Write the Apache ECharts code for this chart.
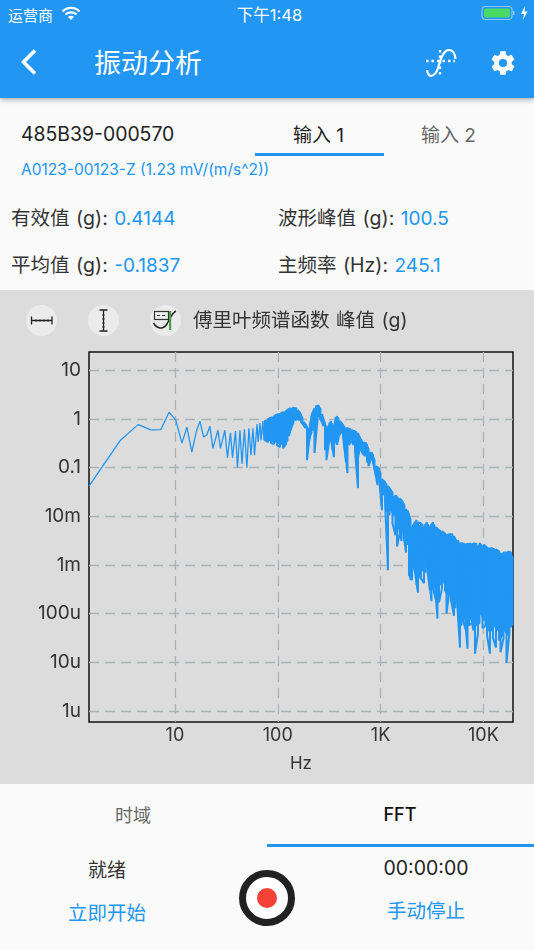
<!DOCTYPE html>
<html>
<head>
    <meta charset="UTF-8">
    <title>振动分析</title>
    <script src="https://cdn.jsdelivr.net/npm/echarts@6/dist/echarts.min.js"></script>
    <style>
        html, body { margin: 0; padding: 0; }
        body { width: 534px; height: 950px; position: relative; overflow: hidden; background: #fafafa;
               font-family: Inter, "Noto Sans CJK SC", sans-serif; color: #333; }
        .t { position: absolute; white-space: nowrap; line-height: 1; transform: translateY(-50%); margin-top: 1px; }
        .c { transform: translate(-50%, -50%); }
        .b { color: #2196F3; }
        .v { font-size: 19.5px; word-spacing: 1px; }
        .v .b { font-size: 19px; }
        .appbar { position: absolute; left: 0; top: 0; width: 534px; height: 98px; background: #2196F3;
                  box-shadow: 0 2px 5px rgba(0,0,0,0.3); }
        .w { color: #fff; }
        .panel { position: absolute; left: 0; top: 290px; width: 534px; height: 494px; background: #dcdcdc; }
        #main { position: absolute; left: 0; top: 290px; width: 534px; height: 494px; }
        .btn { position: absolute; top: 304.5px; width: 31px; height: 31px; border-radius: 50%; background: #ebebeb; }
        .line { position: absolute; background: #2196F3; }
        svg { position: absolute; }
    </style>
</head>
<body>
    <div class="appbar"></div>
    <div class="t w" style="left:8px;top:14px;font-size:15px;">运营商</div>
    <svg style="left:61px;top:6px" width="20" height="15" viewBox="0 0 20 15">
        <path d="M1.5 5.5 A12 12 0 0 1 18.5 5.5 M4.5 8.5 A8 8 0 0 1 15.5 8.5" fill="none" stroke="#fff" stroke-width="2.2"/>
        <path d="M7 11 A4.5 4.5 0 0 1 13 11 L10 14 Z" fill="#fff"/>
    </svg>
    <div class="t w c" style="left:269.5px;top:14px;font-size:16.5px;">下午1:48</div>
    <svg style="left:481px;top:5px" width="48" height="17" viewBox="0 0 48 17">
        <rect x="1" y="1.5" width="30" height="13" rx="3.5" fill="none" stroke="#8fc8f5" stroke-width="1.2"/>
        <rect x="3" y="3.5" width="26" height="9" rx="1.5" fill="#4cd964"/>
        <rect x="32" y="6" width="1.5" height="4" fill="#8fc8f5"/>
        <path d="M44 1 L40 9 L43 9 L42 15 L46.5 6.5 L43.5 6.5 Z" fill="#fff"/>
    </svg>

    <svg style="left:18px;top:47px" width="22" height="30" viewBox="0 0 22 30">
        <path d="M17 3.5 L5.5 15 L17 26.5" fill="none" stroke="#fff" stroke-width="3.6"/>
    </svg>
    <div class="t w" style="left:94px;top:62px;font-size:27px;">振动分析</div>
    <svg style="left:425px;top:48px" width="32" height="30" viewBox="0 0 32 30">
        <path d="M2 22 C3 31 10 29 13 20 C16 9 19 2 24 2 C28 2 30 6 30.5 11" fill="none" stroke="#fff" stroke-width="2.2"/>
        <path d="M1 13 L30 13 M15 2 L15 28" fill="none" stroke="#fff" stroke-width="2.4" stroke-dasharray="2.5 3"/>
    </svg>
    <svg style="left:489px;top:48.5px" width="28" height="28" viewBox="0 0 24 24">
        <path fill="#fff" d="M19.4 13c.04-.33.06-.66.06-1s-.02-.67-.06-1l2.1-1.65c.2-.15.24-.42.12-.64l-2-3.46c-.12-.22-.38-.3-.6-.22l-2.5 1c-.52-.4-1.08-.73-1.7-.98l-.37-2.65A.49.49 0 0 0 14 2h-4a.49.49 0 0 0-.5.42l-.37 2.65c-.61.25-1.18.59-1.7.98l-2.5-1c-.22-.08-.48 0-.6.22l-2 3.46c-.13.22-.07.49.12.64L4.57 11c-.04.33-.07.67-.07 1s.03.67.07 1l-2.1 1.65c-.2.15-.25.42-.12.64l2 3.46c.12.22.38.3.6.22l2.5-1c.52.4 1.08.73 1.7.98l.37 2.65c.04.24.25.42.5.42h4c.25 0 .46-.18.5-.42l.37-2.65c.61-.25 1.18-.58 1.7-.98l2.5 1c.22.08.48 0 .6-.22l2-3.46c.12-.22.07-.49-.12-.64L19.4 13zM12 15.5a3.5 3.5 0 1 1 0-7 3.5 3.5 0 0 1 0 7z"/>
    </svg>

    <div class="t" style="left:21px;top:134px;font-size:19.4px;color:#222;">485B39-000570</div>
    <div class="t" style="left:293px;top:134px;font-size:19px;color:#222;">输入 1</div>
    <div class="t" style="left:421px;top:134px;font-size:19px;color:#666;">输入 2</div>
    <div class="line" style="left:255px;top:153px;width:129px;height:2.5px;"></div>
    <div class="t b" style="left:21px;top:169px;font-size:15.5px;">A0123-00123-Z (1.23 mV/(m/s^2))</div>

    <div class="t v" style="left:11px;top:218px;">有效值 (g): <span class="b">0.4144</span></div>
    <div class="t v" style="left:278px;top:218px;">波形峰值 (g): <span class="b">100.5</span></div>
    <div class="t v" style="left:11px;top:265px;">平均值 (g): <span class="b">-0.1837</span></div>
    <div class="t v" style="left:278px;top:265px;">主频率 (Hz): <span class="b">245.1</span></div>

    <div class="panel"></div>
    <div id="main"></div>
    <div class="btn" style="left:26px;"></div>
    <div class="btn" style="left:87.5px;"></div>
    <div class="btn" style="left:149.5px;"></div>
    <svg style="left:26px;top:304.5px" width="31" height="31" viewBox="0 0 31 31">
        <path d="M5.5 11.5 V19.5 M26 11.5 V19.5 M5.5 15.5 H26" fill="none" stroke="#222" stroke-width="1.3"/>
        <path d="M10 14 V17 M14 14 V17 M18 14 V17 M22 14 V17" stroke="#222" stroke-width="0.7"/>
    </svg>
    <svg style="left:87.5px;top:304.5px" width="31" height="31" viewBox="0 0 31 31">
        <path d="M11.5 5 H19.5 M11.5 26 H19.5 M15.5 5 V26" fill="none" stroke="#222" stroke-width="1.3"/>
        <path d="M14 10 H17 M14 14 H17 M14 18 H17 M14 22 H17" stroke="#222" stroke-width="0.7"/>
    </svg>
    <svg style="left:149.5px;top:304.5px" width="31" height="31" viewBox="0 0 31 31">
        <rect x="4.5" y="6.5" width="14" height="8" fill="none" stroke="#333" stroke-width="1.2"/>
        <path d="M7 10.5 H10 M12 10.5 H15" stroke="#333" stroke-width="1.2"/>
        <path d="M3.5 18 C7 24 13 25 17 19 C20 13 22 8 26 6" fill="none" stroke="#222" stroke-width="1.5"/>
        <rect x="19" y="6" width="2.2" height="19" fill="#43a047"/>
    </svg>
    <div class="t" style="left:193px;top:320px;font-size:19.5px;word-spacing:1px;">傅里叶频谱函数 峰值 (g)</div>

    <div class="t c" style="left:133px;top:815px;font-size:18px;color:#666;">时域</div>
    <div class="t c" style="left:400px;top:814px;font-size:18px;color:#111;font-weight:500;">FFT</div>
    <div class="line" style="left:267px;top:844px;width:267px;height:2.5px;"></div>
    <div class="t c" style="left:107px;top:869px;font-size:19px;">就绪</div>
    <div class="t c b" style="left:107px;top:913px;font-size:19.5px;">立即开始</div>
    <div class="t c" style="left:426px;top:868px;font-size:19.5px;color:#222;">00:00:00</div>
    <div class="t c b" style="left:426px;top:911px;font-size:19.5px;">手动停止</div>
    <svg style="left:238px;top:869px" width="58" height="58" viewBox="0 0 58 58">
        <circle cx="29" cy="29" r="24.5" fill="#fff" stroke="#212121" stroke-width="7"/>
        <circle cx="29" cy="29" r="10" fill="#F44336"/>
    </svg>

    <script type="text/javascript">
        var xTickValues = [10, 100, 1000, 10000];
        var xTickLabels = ['10', '100', '1K', '10K'];
        var yTickValues = [10, 1, 0.1, 0.01, 0.001, 0.0001, 0.00001, 0.000001];
        var yTickLabels = ['10', '1', '0.1', '10m', '1m', '100u', '10u', '1u'];

        // low end of the spectrum, each tooth can be read on its own
        var lowFreqHz = [1.46, 2.92, 4.38, 5.84, 7.3, 8.76, 10.2, 11.7, 13.1, 14.6, 16.2, 17.5, 19.0, 20.4, 21.9, 23.4,
            26.2, 27.7, 30.6, 32.4, 34.7, 36.3, 38.8, 40.6, 42.9, 44.9, 47.4, 50.1, 52.4, 54.9, 57.4, 59.4,
            62.9, 64.4, 67.2, 68.8, 71.8, 73.4];
        var lowAmp = [0.042, 0.358, 0.77, 0.6, 0.61, 1.39, 0.95, 0.32, 0.685, 0.21, 0.57, 0.91, 0.43, 0.47, 0.72, 0.25,
            0.59, 0.25, 0.59, 0.16, 0.52, 0.16, 0.57, 0.1, 0.59, 0.12, 0.62, 0.1, 0.65, 0.18, 0.65, 0.18,
            0.79, 0.34, 0.83, 0.37, 0.91, 0.37];

        // above ~75 Hz the trace is a solid band, read as top and bottom of the band at each frequency
        var bandFreqHz = [75.1, 77.7, 80.3, 83.1, 85.9, 88.9, 91.9, 95.0, 98.3, 101.7,
            105.1, 108.7, 112.4, 116.3, 120.2, 124.4, 128.6, 133.0, 137.6, 142.3,
            147, 152, 157.2, 162.6, 168.2, 173.9, 179.9, 186, 192.4, 199,
            205.7, 212.7, 220, 227.5, 235.3, 243.4, 251.7, 260.3, 269.2, 278.4,
            287.9, 297.7, 307.9, 318.5, 329.4, 340.6, 352.3, 364.3, 376.8, 389.7,
            402.8, 416.6, 430.8, 445.6, 460.8, 476.6, 492.9, 509.7, 527.2, 545.2,
            563.6, 582.9, 602.8, 623.5, 644.8, 666.9, 689.6, 713.2, 737.6, 762.9,
            788.6, 815.6, 843.5, 872.4, 902.2, 933.1, 964.9, 998, 1032, 1067,
            1103, 1141, 1180, 1220, 1262, 1305, 1350, 1396, 1444, 1493,
            1544, 1597, 1651, 1708, 1766, 1827, 1889, 1954, 2021, 2090,
            2160, 2234, 2310, 2389, 2471, 2556, 2643, 2733, 2827, 2924,
            3023, 3126, 3233, 3344, 3458, 3577, 3699, 3826, 3956, 4092,
            4229, 4374, 4523, 4678, 4838, 5004, 5175, 5352, 5535, 5724,
            5918, 6120, 6330, 6547, 6770, 7002, 7241, 7489, 7745, 8011,
            8280, 8563, 8856, 9159, 9472, 9797, 10132, 10478, 10837, 11208,
            11585, 11981, 12391, 12816, 13253, 13707, 14176, 14661, 15162, 15681,
            16210, 16765, 17338, 17932, 18545, 19179];
        var bandUpper = [0.954, 0.954, 1, 1.05, 1.05, 1.1, 1.15, 1.21, 1.21, 1.27,
            1.27, 1.33, 1.39, 1.39, 1.46, 1.53, 1.61, 1.68, 1.68, 1.68,
            1.68, 1.68, 1.53, 1.39, 1.21, 1.05, 0.868, 0.752, 0.685, 0.623,
            0.789, 1.15, 1.46, 1.68, 1.85, 1.94, 1.85, 1.61, 1.27, 0.954,
            0.789, 0.653, 0.685, 0.827, 0.91, 0.789, 0.718, 1.05, 1.15, 1.05,
            0.91, 0.827, 0.752, 0.685, 0.653, 0.653, 0.623, 0.623, 0.594, 0.54,
            0.566, 0.54, 0.515, 0.426, 0.353, 0.336, 0.336, 0.336, 0.292, 0.241,
            0.209, 0.209, 0.182, 0.143, 0.108, 0.103, 0.094, 0.0776, 0.058, 0.053,
            0.051, 0.046, 0.0419, 0.0347, 0.0347, 0.0315, 0.026, 0.0273, 0.0237, 0.0226,
            0.0237, 0.0216, 0.0187, 0.017, 0.014, 0.0133, 0.011, 0.0084, 0.006, 0.0066,
            0.0076, 0.0084, 0.0076, 0.0063, 0.0072, 0.0069, 0.006, 0.0069, 0.0076, 0.0066,
            0.006, 0.0069, 0.0076, 0.0066, 0.006, 0.0052, 0.0052, 0.005, 0.005, 0.0047,
            0.0041, 0.0041, 0.0043, 0.0043, 0.0039, 0.0043, 0.0039, 0.0032, 0.0029, 0.0031,
            0.0028, 0.0028, 0.0027, 0.0027, 0.0027, 0.0024, 0.0027, 0.0028, 0.0027, 0.0028,
            0.0026, 0.0027, 0.0024, 0.0028, 0.0026, 0.0024, 0.0026, 0.0023, 0.0023, 0.0022,
            0.0022, 0.0021, 0.0022, 0.0021, 0.0021, 0.0019, 0.0019, 0.0017, 0.0017, 0.0018,
            0.0017, 0.0018, 0.0019, 0.0019, 0.0018, 0.0014];
        var bandLower = [0.37, 0.353, 0.336, 0.37, 0.321, 0.353, 0.306, 0.336, 0.292, 0.321,
            0.265, 0.306, 0.253, 0.292, 0.306, 0.37, 0.447, 0.594, 0.789, 0.868,
            0.954, 1.05, 1, 0.954, 0.868, 0.827, 0.752, 0.653, 0.143, 0.336,
            0.491, 0.54, 0.594, 0.2, 0.594, 0.954, 1.15, 1.05, 0.868, 0.718,
            0.23, 0.143, 0.353, 0.407, 0.37, 0.23, 0.165, 0.37, 0.292, 0.447,
            0.566, 0.54, 0.447, 0.292, 0.13, 0.0776, 0.292, 0.407, 0.37, 0.292,
            0.23, 0.113, 0.0381, 0.23, 0.23, 0.2, 0.182, 0.173, 0.13, 0.108,
            0.143, 0.158, 0.13, 0.098, 0.067, 0.0439, 0.061, 0.048, 0.0133, 0.0273,
            0.0216, 0.0133, 0.00078, 0.0105, 0.0133, 0.0072, 0.0105, 0.0041, 0.0024, 0.0066,
            0.0047, 0.0031, 0.0052, 0.0032, 0.0018, 0.0026, 0.00062, 0.00049, 0.00049, 0.00099,
            0.00071, 0.00039, 0.00027, 0.00062, 0.00053, 0.00078, 0.00042, 0.00071, 0.00086, 0.00062,
            0.0003, 0.00018, 0.00033, 0.00049, 0.00019, 0.000079, 0.00017, 0.00039, 0.00033, 0.00044,
            0.0003, 0.0001, 0.00024, 0.0003, 0.00019, 0.00017, 0.00009, 0.00013, 0.00019, 0.000072,
            0.00002, 0.000057, 0.000072, 0.00011, 0.000045, 0.000019, 0.000057, 0.00009, 0.000065, 0.000045,
            0.000015, 0.000057, 0.000039, 0.000065, 0.0001, 0.00005, 0.000072, 0.000057, 0.000036, 0.000045,
            0.000015, 0.000045, 0.000032, 0.000057, 0.00002, 0.000045, 0.000028, 0.000016, 0.000036, 0.000031,
            0.000045, 0.0000097, 0.000036, 0.000041, 0.000052, 0.000057];

        var xMin = 1.46, xMax = 19400;
        var yMin = 5.9e-7, yMax = 24;

        function decadeLabel(value, ticks, labels) {
            for (var i = 0; i < ticks.length; i++) {
                if (Math.abs(Math.log10(value) - Math.log10(ticks[i])) < 0.001) return labels[i];
            }
            return '';
        }

        var lowData = lowFreqHz.map(function (f, i) { return [f, lowAmp[i]]; });
        lowData.push([bandFreqHz[0], bandUpper[0]]);

        // the line path drops hops under 2px, so the band columns go in two interleaved series
        function bandColumns(start) {
            var out = [];
            for (var i = start, k = 0; i < bandFreqHz.length; i += 2, k++) {
                if (k % 2 === 0) {
                    out.push([bandFreqHz[i], bandUpper[i]], [bandFreqHz[i], bandLower[i]]);
                } else {
                    out.push([bandFreqHz[i], bandLower[i]], [bandFreqHz[i], bandUpper[i]]);
                }
            }
            return out;
        }

        var gridLine = {
            show: true,
            showMinLine: false,
            showMaxLine: false,
            lineStyle: { color: '#a8b4b8', width: 1.3, type: [10, 6] }
        };

        var myChart = echarts.init(document.getElementById('main'));
        myChart.setOption({
            animation: false,
            textStyle: { fontFamily: 'Inter, "Noto Sans CJK SC", sans-serif' },
            grid: {
                left: 89, right: 21, top: 62, bottom: 62,
                show: true, borderColor: '#111', borderWidth: 1.5, backgroundColor: 'transparent'
            },
            xAxis: {
                type: 'log',
                min: xMin,
                max: xMax,
                name: 'Hz',
                nameLocation: 'middle',
                nameGap: 33,
                nameTextStyle: { fontSize: 17, color: '#333' },
                axisLine: { show: false },
                axisTick: { show: false },
                axisLabel: {
                    fontSize: 18, color: '#333', margin: 5, hideOverlap: false, showMinLabel: true, showMaxLabel: true,
                    formatter: function (v) { return decadeLabel(v, xTickValues, xTickLabels); }
                },
                splitLine: gridLine
            },
            yAxis: {
                type: 'log',
                min: yMin,
                max: yMax,
                splitNumber: 8,
                axisLine: { show: false },
                axisTick: { show: false },
                axisLabel: {
                    fontSize: 19, color: '#333', margin: 8, hideOverlap: false, padding: [3, 0, 0, 0],
                    formatter: function (v) { return decadeLabel(v, yTickValues, yTickLabels); }
                },
                splitLine: gridLine
            },
            series: [{
                name: 'low',
                type: 'line',
                data: lowData,
                showSymbol: false,
                symbol: 'none',
                lineStyle: { color: '#2196F3', width: 1.3 }
            }, {
                name: 'band even',
                type: 'line',
                data: bandColumns(0),
                showSymbol: false,
                symbol: 'none',
                lineStyle: { color: '#2196F3', width: 2 }
            }, {
                name: 'band odd',
                type: 'line',
                data: bandColumns(1),
                showSymbol: false,
                symbol: 'none',
                lineStyle: { color: '#2196F3', width: 2 }
            }]
        });
    </script>
</body>
</html>
